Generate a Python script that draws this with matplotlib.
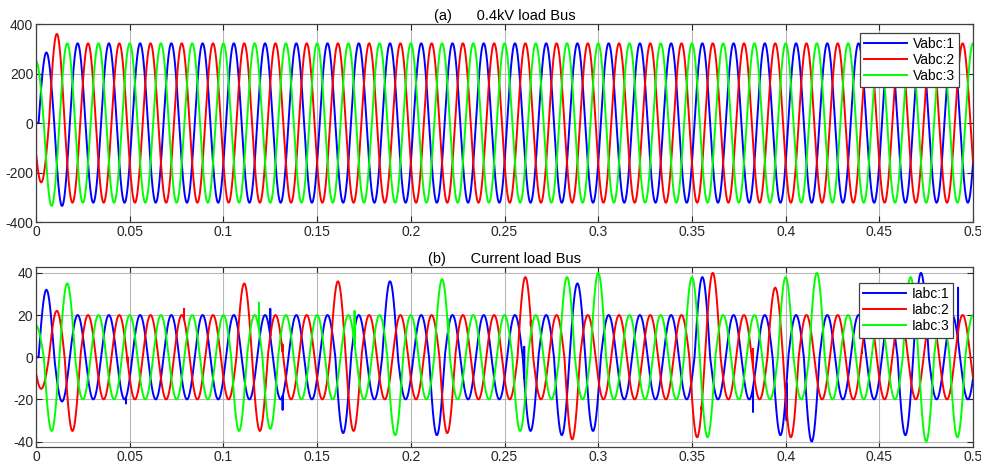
import numpy as np
import matplotlib
matplotlib.use('Agg')
import matplotlib.pyplot as plt

matplotlib.rcParams['font.family'] = ['Liberation Sans', 'DejaVu Sans']
matplotlib.rcParams['axes.unicode_minus'] = False

f = 60.0                      # Hz
w = 2 * np.pi * f
t_end = 0.5
phase_deg = [-30, -150, 90]   # blue, red, green
colors = ['#0000ff', '#ff0000', '#00ff00']

# voltage (a): nominal peak, transient half-cycle peaks
v_nom = 322
va_peak_t = [0.0, 0.0059, 0.0134]
va_peak_v = [0, 285, -335]
vb_peak_t = [0.002, 0.0113]
vb_peak_v = [-240, 360]
vc_peak_t = [0.0, 0.0084]
vc_peak_v = [250, -335]
v_start = [0, 400, -400]
v_labels = ['Vabc:1', 'Vabc:2', 'Vabc:3']

# current (b)
i_nom = 20
ia_peak_t = [0.0, 0.0071, 0.0132, 0.163, 0.189, 0.214, 0.264, 0.281, 0.289, 0.299,
             0.356, 0.397, 0.415, 0.464, 0.473]
ia_peak_v = [0, 32, -21, -36, 36, -37, -35, -37, 35, -35,
             38, -37, -40, -37, 40]
ib_peak_t = [0.002, 0.0107, 0.018, 0.110, 0.119, 0.1617, 0.1697, 0.22, 0.2604, 0.2855,
             0.3522, 0.3605, 0.396, 0.4023]
ib_peak_v = [-15, 22, -35, 35, -35, 36, -35, -36, 38, -39,
             -38, 40, 33, -38]
ic_peak_t = [0.0, 0.0084, 0.0164, 0.1089, 0.1254, 0.1906, 0.2156, 0.260, 0.283, 0.2994,
             0.3504, 0.359, 0.4006, 0.4166, 0.466, 0.4726, 0.492]
ic_peak_v = [15, -35, 35, -35, -34, -37, 37, -35, 38, 40,
             38, -38, 38, 40, 38, -40, -38]
i_start = [0, 28, -43]

# short switching spikes (time, value)
ia_glitch = [(0.048, -22), (0.1195, 11), (0.125, 23), (0.1316, -25), (0.2605, 5),
             (0.3826, -26), (0.4005, -30), (0.4407, 28), (0.492, 33)]
ib_glitch = [(0.049, 0), (0.079, 23), (0.1316, 6), (0.264, 15), (0.3552, -25),
             (0.3826, 4), (0.4407, 2)]
ic_glitch = [(0.0786, -4), (0.119, 26), (0.17, 22), (0.22, 18)]
i_labels = ['Iabc:1', 'Iabc:2', 'Iabc:3']

t = np.arange(0, t_end + 1e-9, 2e-5)


def wave(phi_deg, nominal, peak_t, peak_v, start, glitches=()):
    phi = np.deg2rad(phi_deg)
    arg = w * t + phi
    k = np.floor(arg / np.pi)
    amp = np.full_like(t, float(nominal))
    for tp, vp in zip(peak_t, peak_v):
        kp = np.floor((w * tp + phi) / np.pi)
        amp[k == kp] = abs(vp)
    y = amp * np.sin(arg)
    y[0] = start
    for tg, vg in glitches:
        idx = np.searchsorted(t, tg)
        y[idx] = vg
    return y


volt = [wave(phase_deg[0], v_nom, va_peak_t, va_peak_v, v_start[0]),
        wave(phase_deg[1], v_nom, vb_peak_t, vb_peak_v, v_start[1]),
        wave(phase_deg[2], v_nom, vc_peak_t, vc_peak_v, v_start[2])]
curr = [wave(phase_deg[0], i_nom, ia_peak_t, ia_peak_v, i_start[0], ia_glitch),
        wave(phase_deg[1], i_nom, ib_peak_t, ib_peak_v, i_start[1], ib_glitch),
        wave(phase_deg[2], i_nom, ic_peak_t, ic_peak_v, i_start[2], ic_glitch)]

fig = plt.figure(figsize=(9.81, 4.68), dpi=100)
ax1 = fig.add_axes([0.0367, 0.5256, 0.9552, 0.4231])
ax2 = fig.add_axes([0.0367, 0.0449, 0.9552, 0.3846])


def style(ax, yticks, ylim):
    ax.set_xlim(0, t_end)
    ax.set_ylim(*ylim)
    ax.set_xticks(np.arange(0, 0.501, 0.05))
    ax.set_xticklabels(['0', '0.05', '0.1', '0.15', '0.2', '0.25', '0.3', '0.35',
                        '0.4', '0.45', '0.5'])
    ax.set_yticks(yticks)
    ax.grid(True, color='#b8b8b8', lw=0.8)
    ax.set_axisbelow(True)
    ax.tick_params(direction='in', top=True, right=True, length=4, width=0.8,
                   labelsize=10, pad=2, colors='#262626')
    for s in ax.spines.values():
        s.set_color('#404040')
        s.set_linewidth(0.9)


for y, c, lab in zip(volt, colors, v_labels):
    ax1.plot(t, y, color=c, lw=1.4, label=lab)
style(ax1, [-400, -200, 0, 200, 400], (-400, 400))
ax1.set_title('(a)      0.4kV load Bus', fontsize=10.5, pad=3)
leg1 = ax1.legend(loc='upper right', bbox_to_anchor=(0.985, 0.955), fontsize=10,
                  fancybox=False, edgecolor='#404040', framealpha=1,
                  handlelength=3.1, labelspacing=0.15, borderpad=0.3,
                  handletextpad=0.4, borderaxespad=0)
leg1.get_frame().set_linewidth(0.9)

for y, c, lab in zip(curr, colors, i_labels):
    ax2.plot(t, y, color=c, lw=1.4, label=lab)
style(ax2, [-40, -20, 0, 20, 40], (-42.6, 42.8))
ax2.set_title('(b)      Current load Bus', fontsize=10.5, pad=3)
leg2 = ax2.legend(loc='upper right', bbox_to_anchor=(0.979, 0.911), fontsize=10,
                  fancybox=False, edgecolor='#404040', framealpha=1,
                  handlelength=3.1, labelspacing=0.15, borderpad=0.3,
                  handletextpad=0.4, borderaxespad=0)
leg2.get_frame().set_linewidth(0.9)

fig.savefig('out.png', dpi=100)
